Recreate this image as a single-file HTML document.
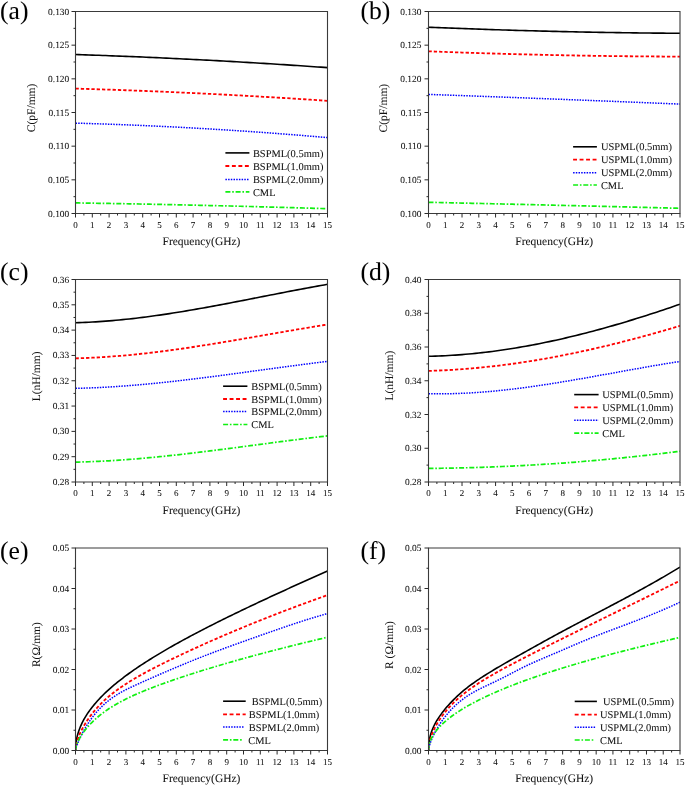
<!DOCTYPE html>
<html><head><meta charset="utf-8"><title>Figure</title>
<style>
html,body{margin:0;padding:0;background:#fff;width:685px;height:786px;overflow:hidden;}
svg{display:block;will-change:transform;}
text{font-family:"Liberation Serif",serif;text-rendering:geometricPrecision;stroke:currentColor;stroke-width:0.05px;}
</style></head><body>
<svg width="685" height="786" viewBox="0 0 685 786">
<rect width="685" height="786" fill="#fff"/>
<g><clipPath id="cL1"><rect x="75.5" y="9.5" width="252" height="204"/></clipPath>
<g clip-path="url(#cL1)" fill="none" stroke-linejoin="round">
<path d="M75.5,54.5 L78.86,54.61 L82.22,54.73 L85.58,54.84 L88.94,54.96 L92.3,55.08 L95.66,55.2 L99.02,55.32 L102.38,55.44 L105.74,55.57 L109.1,55.7 L112.46,55.83 L115.82,55.96 L119.18,56.09 L122.54,56.22 L125.9,56.36 L129.26,56.5 L132.62,56.64 L135.98,56.78 L139.34,56.92 L142.7,57.06 L146.06,57.21 L149.42,57.36 L152.78,57.51 L156.14,57.66 L159.5,57.81 L162.86,57.97 L166.22,58.12 L169.58,58.28 L172.94,58.44 L176.3,58.6 L179.66,58.76 L183.02,58.93 L186.38,59.1 L189.74,59.26 L193.1,59.43 L196.46,59.61 L199.82,59.78 L203.18,59.96 L206.54,60.13 L209.9,60.31 L213.26,60.49 L216.62,60.67 L219.98,60.86 L223.34,61.04 L226.7,61.23 L230.06,61.42 L233.42,61.61 L236.78,61.8 L240.14,62 L243.5,62.19 L246.86,62.39 L250.22,62.59 L253.58,62.79 L256.94,62.99 L260.3,63.2 L263.66,63.4 L267.02,63.61 L270.38,63.82 L273.74,64.03 L277.1,64.24 L280.46,64.46 L283.82,64.67 L287.18,64.89 L290.54,65.11 L293.9,65.33 L297.26,65.56 L300.62,65.78 L303.98,66.01 L307.34,66.24 L310.7,66.47 L314.06,66.7 L317.42,66.93 L320.78,67.17 L324.14,67.4 L327.5,67.64" stroke="#000000" stroke-width="1.6"/>
<path d="M75.5,88.59 L78.86,88.69 L82.22,88.79 L85.58,88.89 L88.94,88.99 L92.3,89.1 L95.66,89.21 L99.02,89.31 L102.38,89.43 L105.74,89.54 L109.1,89.65 L112.46,89.77 L115.82,89.88 L119.18,90 L122.54,90.12 L125.9,90.25 L129.26,90.37 L132.62,90.5 L135.98,90.63 L139.34,90.76 L142.7,90.89 L146.06,91.02 L149.42,91.16 L152.78,91.29 L156.14,91.43 L159.5,91.57 L162.86,91.71 L166.22,91.86 L169.58,92 L172.94,92.15 L176.3,92.3 L179.66,92.45 L183.02,92.6 L186.38,92.76 L189.74,92.91 L193.1,93.07 L196.46,93.23 L199.82,93.39 L203.18,93.56 L206.54,93.72 L209.9,93.89 L213.26,94.06 L216.62,94.23 L219.98,94.4 L223.34,94.57 L226.7,94.75 L230.06,94.93 L233.42,95.11 L236.78,95.29 L240.14,95.47 L243.5,95.65 L246.86,95.84 L250.22,96.03 L253.58,96.22 L256.94,96.41 L260.3,96.6 L263.66,96.8 L267.02,96.99 L270.38,97.19 L273.74,97.39 L277.1,97.59 L280.46,97.8 L283.82,98 L287.18,98.21 L290.54,98.42 L293.9,98.63 L297.26,98.84 L300.62,99.06 L303.98,99.27 L307.34,99.49 L310.7,99.71 L314.06,99.93 L317.42,100.15 L320.78,100.38 L324.14,100.61 L327.5,100.83" stroke="#ff0000" stroke-width="1.8" stroke-dasharray="3.3 2.0"/>
<path d="M75.5,123.13 L78.86,123.22 L82.22,123.32 L85.58,123.42 L88.94,123.52 L92.3,123.63 L95.66,123.73 L99.02,123.85 L102.38,123.96 L105.74,124.07 L109.1,124.19 L112.46,124.31 L115.82,124.44 L119.18,124.56 L122.54,124.69 L125.9,124.82 L129.26,124.96 L132.62,125.1 L135.98,125.24 L139.34,125.38 L142.7,125.52 L146.06,125.67 L149.42,125.82 L152.78,125.97 L156.14,126.13 L159.5,126.29 L162.86,126.45 L166.22,126.61 L169.58,126.78 L172.94,126.95 L176.3,127.12 L179.66,127.29 L183.02,127.47 L186.38,127.65 L189.74,127.83 L193.1,128.02 L196.46,128.21 L199.82,128.4 L203.18,128.59 L206.54,128.79 L209.9,128.98 L213.26,129.19 L216.62,129.39 L219.98,129.6 L223.34,129.81 L226.7,130.02 L230.06,130.23 L233.42,130.45 L236.78,130.67 L240.14,130.89 L243.5,131.12 L246.86,131.34 L250.22,131.58 L253.58,131.81 L256.94,132.04 L260.3,132.28 L263.66,132.52 L267.02,132.77 L270.38,133.01 L273.74,133.26 L277.1,133.52 L280.46,133.77 L283.82,134.03 L287.18,134.29 L290.54,134.55 L293.9,134.82 L297.26,135.08 L300.62,135.35 L303.98,135.63 L307.34,135.9 L310.7,136.18 L314.06,136.46 L317.42,136.75 L320.78,137.03 L324.14,137.32 L327.5,137.62" stroke="#0000ff" stroke-width="1.5" stroke-dasharray="1.5 1.2"/>
<path d="M75.5,202.9 L78.86,202.95 L82.22,203.01 L85.58,203.06 L88.94,203.11 L92.3,203.17 L95.66,203.23 L99.02,203.28 L102.38,203.34 L105.74,203.4 L109.1,203.46 L112.46,203.52 L115.82,203.58 L119.18,203.64 L122.54,203.7 L125.9,203.76 L129.26,203.82 L132.62,203.89 L135.98,203.95 L139.34,204.01 L142.7,204.08 L146.06,204.15 L149.42,204.21 L152.78,204.28 L156.14,204.35 L159.5,204.42 L162.86,204.49 L166.22,204.56 L169.58,204.63 L172.94,204.7 L176.3,204.77 L179.66,204.84 L183.02,204.92 L186.38,204.99 L189.74,205.06 L193.1,205.14 L196.46,205.22 L199.82,205.29 L203.18,205.37 L206.54,205.45 L209.9,205.53 L213.26,205.61 L216.62,205.69 L219.98,205.77 L223.34,205.85 L226.7,205.93 L230.06,206.01 L233.42,206.1 L236.78,206.18 L240.14,206.26 L243.5,206.35 L246.86,206.44 L250.22,206.52 L253.58,206.61 L256.94,206.7 L260.3,206.79 L263.66,206.88 L267.02,206.97 L270.38,207.06 L273.74,207.15 L277.1,207.24 L280.46,207.33 L283.82,207.43 L287.18,207.52 L290.54,207.61 L293.9,207.71 L297.26,207.81 L300.62,207.9 L303.98,208 L307.34,208.1 L310.7,208.2 L314.06,208.3 L317.42,208.4 L320.78,208.5 L324.14,208.6 L327.5,208.7" stroke="#10f010" stroke-width="1.7" stroke-dasharray="5 1.8 1.6 1.8"/>
</g>
<path d="M75.5,11.5H327.5V213.5H75.5Z" fill="none" stroke="#3a3a3a" stroke-width="1.1"/>
<path d="M75.5,213.5v4M83.9,213.5v2M92.3,213.5v4M100.7,213.5v2M109.1,213.5v4M117.5,213.5v2M125.9,213.5v4M134.3,213.5v2M142.7,213.5v4M151.1,213.5v2M159.5,213.5v4M167.9,213.5v2M176.3,213.5v4M184.7,213.5v2M193.1,213.5v4M201.5,213.5v2M209.9,213.5v4M218.3,213.5v2M226.7,213.5v4M235.1,213.5v2M243.5,213.5v4M251.9,213.5v2M260.3,213.5v4M268.7,213.5v2M277.1,213.5v4M285.5,213.5v2M293.9,213.5v4M302.3,213.5v2M310.7,213.5v4M319.1,213.5v2M327.5,213.5v4M75.5,11.5h-4M75.5,28.33h-2M75.5,45.17h-4M75.5,62h-2M75.5,78.83h-4M75.5,95.67h-2M75.5,112.5h-4M75.5,129.33h-2M75.5,146.17h-4M75.5,163h-2M75.5,179.83h-4M75.5,196.67h-2M75.5,213.5h-4" stroke="#2a2a2a" stroke-width="1"/>
<g font-size="9.0" text-anchor="middle" fill="#111111"><text x="75.5" y="227.7">0</text><text x="92.3" y="227.7">1</text><text x="109.1" y="227.7">2</text><text x="125.9" y="227.7">3</text><text x="142.7" y="227.7">4</text><text x="159.5" y="227.7">5</text><text x="176.3" y="227.7">6</text><text x="193.1" y="227.7">7</text><text x="209.9" y="227.7">8</text><text x="226.7" y="227.7">9</text><text x="243.5" y="227.7">10</text><text x="260.3" y="227.7">11</text><text x="277.1" y="227.7">12</text><text x="293.9" y="227.7">13</text><text x="310.7" y="227.7">14</text><text x="327.5" y="227.7">15</text></g>
<g font-size="9.4" text-anchor="end" fill="#111111"><text x="69.2" y="14.5">0.130</text><text x="69.2" y="48.17">0.125</text><text x="69.2" y="81.83">0.120</text><text x="69.2" y="115.5">0.115</text><text x="69.2" y="149.17">0.110</text><text x="69.2" y="182.83">0.105</text><text x="69.2" y="216.5">0.100</text></g>
<text x="201.5" y="245" font-size="11.5" text-anchor="middle" fill="#111111">Frequency(GHz)</text>
<text transform="translate(35,107.9) rotate(-90)" font-size="11.5" text-anchor="middle" fill="#111111">C(pF/mm)</text>
<text x="0" y="19.2" font-size="25.6" fill="#000">(a)</text>
<path d="M225.4,152.9H249.4" stroke="#000000" stroke-width="1.6"/>
<text x="252.9" y="156.8" font-size="10.45" fill="#111111">BSPML(0.5mm)</text>
<path d="M225.4,166H249.4" stroke="#ff0000" stroke-width="1.8" stroke-dasharray="3.9 2.6"/>
<text x="252.9" y="169.9" font-size="10.45" fill="#111111">BSPML(1.0mm)</text>
<path d="M225.4,179.4H249.4" stroke="#0000ff" stroke-width="1.5" stroke-dasharray="1.5 1.2"/>
<text x="252.9" y="183.3" font-size="10.45" fill="#111111">BSPML(2.0mm)</text>
<path d="M225.4,191.8H249.4" stroke="#10f010" stroke-width="1.7" stroke-dasharray="5 1.8 1.6 1.8"/>
<text x="252.9" y="195.7" font-size="10.45" fill="#111111">CML</text></g>
<g><clipPath id="cR1"><rect x="428.5" y="9.5" width="251.5" height="204"/></clipPath>
<g clip-path="url(#cR1)" fill="none" stroke-linejoin="round">
<path d="M428.5,27.2 L431.85,27.34 L435.21,27.48 L438.56,27.62 L441.91,27.75 L445.27,27.89 L448.62,28.02 L451.97,28.15 L455.33,28.28 L458.68,28.41 L462.03,28.54 L465.39,28.66 L468.74,28.78 L472.09,28.9 L475.45,29.02 L478.8,29.14 L482.15,29.26 L485.51,29.37 L488.86,29.49 L492.21,29.6 L495.57,29.71 L498.92,29.82 L502.27,29.93 L505.63,30.03 L508.98,30.14 L512.33,30.24 L515.69,30.34 L519.04,30.44 L522.39,30.53 L525.75,30.63 L529.1,30.72 L532.45,30.82 L535.81,30.91 L539.16,31 L542.51,31.09 L545.87,31.17 L549.22,31.26 L552.57,31.34 L555.93,31.42 L559.28,31.5 L562.63,31.58 L565.99,31.65 L569.34,31.73 L572.69,31.8 L576.05,31.87 L579.4,31.94 L582.75,32.01 L586.11,32.08 L589.46,32.15 L592.81,32.21 L596.17,32.27 L599.52,32.33 L602.87,32.39 L606.23,32.45 L609.58,32.5 L612.93,32.56 L616.29,32.61 L619.64,32.66 L622.99,32.71 L626.35,32.76 L629.7,32.8 L633.05,32.85 L636.41,32.89 L639.76,32.93 L643.11,32.97 L646.47,33.01 L649.82,33.05 L653.17,33.08 L656.53,33.11 L659.88,33.14 L663.23,33.17 L666.59,33.2 L669.94,33.23 L673.29,33.25 L676.65,33.28 L680,33.3" stroke="#000000" stroke-width="1.6"/>
<path d="M428.5,51.3 L431.85,51.43 L435.21,51.56 L438.56,51.69 L441.91,51.81 L445.27,51.94 L448.62,52.06 L451.97,52.18 L455.33,52.3 L458.68,52.41 L462.03,52.53 L465.39,52.64 L468.74,52.76 L472.09,52.87 L475.45,52.98 L478.8,53.08 L482.15,53.19 L485.51,53.3 L488.86,53.4 L492.21,53.5 L495.57,53.6 L498.92,53.7 L502.27,53.79 L505.63,53.89 L508.98,53.98 L512.33,54.07 L515.69,54.16 L519.04,54.25 L522.39,54.34 L525.75,54.42 L529.1,54.51 L532.45,54.59 L535.81,54.67 L539.16,54.75 L542.51,54.83 L545.87,54.9 L549.22,54.97 L552.57,55.05 L555.93,55.12 L559.28,55.19 L562.63,55.25 L565.99,55.32 L569.34,55.38 L572.69,55.45 L576.05,55.51 L579.4,55.57 L582.75,55.62 L586.11,55.68 L589.46,55.74 L592.81,55.79 L596.17,55.84 L599.52,55.89 L602.87,55.94 L606.23,55.98 L609.58,56.03 L612.93,56.07 L616.29,56.11 L619.64,56.15 L622.99,56.19 L626.35,56.23 L629.7,56.26 L633.05,56.3 L636.41,56.33 L639.76,56.36 L643.11,56.39 L646.47,56.42 L649.82,56.44 L653.17,56.47 L656.53,56.49 L659.88,56.51 L663.23,56.53 L666.59,56.55 L669.94,56.56 L673.29,56.58 L676.65,56.59 L680,56.6" stroke="#ff0000" stroke-width="1.8" stroke-dasharray="3.3 2.0"/>
<path d="M428.5,94.4 L431.85,94.52 L435.21,94.64 L438.56,94.76 L441.91,94.88 L445.27,95 L448.62,95.12 L451.97,95.24 L455.33,95.37 L458.68,95.49 L462.03,95.61 L465.39,95.73 L468.74,95.85 L472.09,95.98 L475.45,96.1 L478.8,96.22 L482.15,96.35 L485.51,96.47 L488.86,96.59 L492.21,96.72 L495.57,96.84 L498.92,96.97 L502.27,97.09 L505.63,97.22 L508.98,97.35 L512.33,97.47 L515.69,97.6 L519.04,97.72 L522.39,97.85 L525.75,97.98 L529.1,98.1 L532.45,98.23 L535.81,98.36 L539.16,98.49 L542.51,98.62 L545.87,98.75 L549.22,98.87 L552.57,99 L555.93,99.13 L559.28,99.26 L562.63,99.39 L565.99,99.52 L569.34,99.65 L572.69,99.78 L576.05,99.91 L579.4,100.04 L582.75,100.18 L586.11,100.31 L589.46,100.44 L592.81,100.57 L596.17,100.7 L599.52,100.84 L602.87,100.97 L606.23,101.1 L609.58,101.24 L612.93,101.37 L616.29,101.5 L619.64,101.64 L622.99,101.77 L626.35,101.91 L629.7,102.04 L633.05,102.18 L636.41,102.31 L639.76,102.45 L643.11,102.59 L646.47,102.72 L649.82,102.86 L653.17,103 L656.53,103.13 L659.88,103.27 L663.23,103.41 L666.59,103.55 L669.94,103.68 L673.29,103.82 L676.65,103.96 L680,104.1" stroke="#0000ff" stroke-width="1.5" stroke-dasharray="1.5 1.2"/>
<path d="M428.5,202.3 L431.85,202.37 L435.21,202.45 L438.56,202.52 L441.91,202.6 L445.27,202.68 L448.62,202.75 L451.97,202.83 L455.33,202.9 L458.68,202.98 L462.03,203.05 L465.39,203.13 L468.74,203.21 L472.09,203.28 L475.45,203.36 L478.8,203.44 L482.15,203.51 L485.51,203.59 L488.86,203.67 L492.21,203.74 L495.57,203.82 L498.92,203.9 L502.27,203.98 L505.63,204.05 L508.98,204.13 L512.33,204.21 L515.69,204.29 L519.04,204.37 L522.39,204.45 L525.75,204.53 L529.1,204.6 L532.45,204.68 L535.81,204.76 L539.16,204.84 L542.51,204.92 L545.87,205 L549.22,205.08 L552.57,205.16 L555.93,205.24 L559.28,205.32 L562.63,205.4 L565.99,205.48 L569.34,205.56 L572.69,205.64 L576.05,205.72 L579.4,205.8 L582.75,205.89 L586.11,205.97 L589.46,206.05 L592.81,206.13 L596.17,206.21 L599.52,206.29 L602.87,206.37 L606.23,206.46 L609.58,206.54 L612.93,206.62 L616.29,206.7 L619.64,206.79 L622.99,206.87 L626.35,206.95 L629.7,207.04 L633.05,207.12 L636.41,207.2 L639.76,207.29 L643.11,207.37 L646.47,207.45 L649.82,207.54 L653.17,207.62 L656.53,207.71 L659.88,207.79 L663.23,207.88 L666.59,207.96 L669.94,208.04 L673.29,208.13 L676.65,208.21 L680,208.3" stroke="#10f010" stroke-width="1.7" stroke-dasharray="5 1.8 1.6 1.8"/>
</g>
<path d="M428.5,11.5H680V213.5H428.5Z" fill="none" stroke="#3a3a3a" stroke-width="1.1"/>
<path d="M428.5,213.5v4M436.88,213.5v2M445.27,213.5v4M453.65,213.5v2M462.03,213.5v4M470.42,213.5v2M478.8,213.5v4M487.18,213.5v2M495.57,213.5v4M503.95,213.5v2M512.33,213.5v4M520.72,213.5v2M529.1,213.5v4M537.48,213.5v2M545.87,213.5v4M554.25,213.5v2M562.63,213.5v4M571.02,213.5v2M579.4,213.5v4M587.78,213.5v2M596.17,213.5v4M604.55,213.5v2M612.93,213.5v4M621.32,213.5v2M629.7,213.5v4M638.08,213.5v2M646.47,213.5v4M654.85,213.5v2M663.23,213.5v4M671.62,213.5v2M680,213.5v4M428.5,11.5h-4M428.5,28.33h-2M428.5,45.17h-4M428.5,62h-2M428.5,78.83h-4M428.5,95.67h-2M428.5,112.5h-4M428.5,129.33h-2M428.5,146.17h-4M428.5,163h-2M428.5,179.83h-4M428.5,196.67h-2M428.5,213.5h-4" stroke="#2a2a2a" stroke-width="1"/>
<g font-size="9.0" text-anchor="middle" fill="#111111"><text x="428.5" y="227.7">0</text><text x="445.27" y="227.7">1</text><text x="462.03" y="227.7">2</text><text x="478.8" y="227.7">3</text><text x="495.57" y="227.7">4</text><text x="512.33" y="227.7">5</text><text x="529.1" y="227.7">6</text><text x="545.87" y="227.7">7</text><text x="562.63" y="227.7">8</text><text x="579.4" y="227.7">9</text><text x="596.17" y="227.7">10</text><text x="612.93" y="227.7">11</text><text x="629.7" y="227.7">12</text><text x="646.47" y="227.7">13</text><text x="663.23" y="227.7">14</text><text x="680" y="227.7">15</text></g>
<g font-size="9.4" text-anchor="end" fill="#111111"><text x="421.4" y="14.5">0.130</text><text x="421.4" y="48.17">0.125</text><text x="421.4" y="81.83">0.120</text><text x="421.4" y="115.5">0.115</text><text x="421.4" y="149.17">0.110</text><text x="421.4" y="182.83">0.105</text><text x="421.4" y="216.5">0.100</text></g>
<text x="554.25" y="245" font-size="11.5" text-anchor="middle" fill="#111111">Frequency(GHz)</text>
<text transform="translate(387.2,108.1) rotate(-90)" font-size="11.5" text-anchor="middle" fill="#111111">C(pF/mm)</text>
<text x="360.5" y="18.9" font-size="25.6" fill="#000">(b)</text>
<path d="M573.1,146.8H596.9" stroke="#000000" stroke-width="1.6"/>
<text x="600.9" y="150.4" font-size="10.45" fill="#111111">USPML(0.5mm)</text>
<path d="M573.1,159.7H596.9" stroke="#ff0000" stroke-width="1.8" stroke-dasharray="3.9 2.6"/>
<text x="600.9" y="163.3" font-size="10.45" fill="#111111">USPML(1.0mm)</text>
<path d="M573.1,172.8H596.9" stroke="#0000ff" stroke-width="1.5" stroke-dasharray="1.5 1.2"/>
<text x="600.9" y="176.4" font-size="10.45" fill="#111111">USPML(2.0mm)</text>
<path d="M573.1,185H596.9" stroke="#10f010" stroke-width="1.7" stroke-dasharray="5 1.8 1.6 1.8"/>
<text x="600.9" y="188.6" font-size="10.45" fill="#111111">CML</text></g>
<g><clipPath id="cL2"><rect x="75.5" y="277.5" width="252" height="204.5"/></clipPath>
<g clip-path="url(#cL2)" fill="none" stroke-linejoin="round">
<path d="M75.5,322.69 L78.86,322.6 L82.22,322.48 L85.58,322.35 L88.94,322.2 L92.3,322.03 L95.66,321.84 L99.02,321.63 L102.38,321.4 L105.74,321.15 L109.1,320.89 L112.46,320.61 L115.82,320.31 L119.18,320 L122.54,319.67 L125.9,319.32 L129.26,318.96 L132.62,318.59 L135.98,318.2 L139.34,317.8 L142.7,317.38 L146.06,316.95 L149.42,316.5 L152.78,316.05 L156.14,315.58 L159.5,315.1 L162.86,314.61 L166.22,314.1 L169.58,313.59 L172.94,313.07 L176.3,312.53 L179.66,311.99 L183.02,311.44 L186.38,310.87 L189.74,310.3 L193.1,309.73 L196.46,309.14 L199.82,308.55 L203.18,307.95 L206.54,307.34 L209.9,306.73 L213.26,306.11 L216.62,305.49 L219.98,304.86 L223.34,304.22 L226.7,303.59 L230.06,302.94 L233.42,302.3 L236.78,301.65 L240.14,301 L243.5,300.34 L246.86,299.69 L250.22,299.03 L253.58,298.37 L256.94,297.71 L260.3,297.05 L263.66,296.39 L267.02,295.73 L270.38,295.07 L273.74,294.41 L277.1,293.76 L280.46,293.1 L283.82,292.45 L287.18,291.8 L290.54,291.15 L293.9,290.51 L297.26,289.87 L300.62,289.23 L303.98,288.6 L307.34,287.97 L310.7,287.35 L314.06,286.73 L317.42,286.12 L320.78,285.51 L324.14,284.92 L327.5,284.32" stroke="#000000" stroke-width="1.6"/>
<path d="M75.5,358.32 L78.86,358.23 L82.22,358.13 L85.58,358.01 L88.94,357.87 L92.3,357.72 L95.66,357.55 L99.02,357.37 L102.38,357.17 L105.74,356.95 L109.1,356.72 L112.46,356.47 L115.82,356.22 L119.18,355.94 L122.54,355.65 L125.9,355.35 L129.26,355.04 L132.62,354.71 L135.98,354.37 L139.34,354.02 L142.7,353.66 L146.06,353.29 L149.42,352.9 L152.78,352.5 L156.14,352.1 L159.5,351.68 L162.86,351.25 L166.22,350.82 L169.58,350.37 L172.94,349.91 L176.3,349.45 L179.66,348.98 L183.02,348.5 L186.38,348.01 L189.74,347.51 L193.1,347.01 L196.46,346.5 L199.82,345.98 L203.18,345.46 L206.54,344.93 L209.9,344.39 L213.26,343.85 L216.62,343.3 L219.98,342.75 L223.34,342.2 L226.7,341.64 L230.06,341.08 L233.42,340.51 L236.78,339.94 L240.14,339.37 L243.5,338.79 L246.86,338.21 L250.22,337.64 L253.58,337.05 L256.94,336.47 L260.3,335.89 L263.66,335.3 L267.02,334.72 L270.38,334.13 L273.74,333.55 L277.1,332.96 L280.46,332.38 L283.82,331.79 L287.18,331.21 L290.54,330.63 L293.9,330.05 L297.26,329.48 L300.62,328.9 L303.98,328.33 L307.34,327.77 L310.7,327.2 L314.06,326.64 L317.42,326.09 L320.78,325.54 L324.14,324.99 L327.5,324.45" stroke="#ff0000" stroke-width="1.8" stroke-dasharray="3.3 2.0"/>
<path d="M75.5,388.34 L78.86,388.27 L82.22,388.18 L85.58,388.08 L88.94,387.97 L92.3,387.84 L95.66,387.7 L99.02,387.54 L102.38,387.37 L105.74,387.19 L109.1,387 L112.46,386.8 L115.82,386.58 L119.18,386.36 L122.54,386.12 L125.9,385.87 L129.26,385.61 L132.62,385.34 L135.98,385.06 L139.34,384.77 L142.7,384.47 L146.06,384.17 L149.42,383.85 L152.78,383.52 L156.14,383.19 L159.5,382.85 L162.86,382.5 L166.22,382.14 L169.58,381.78 L172.94,381.41 L176.3,381.03 L179.66,380.64 L183.02,380.25 L186.38,379.86 L189.74,379.45 L193.1,379.05 L196.46,378.63 L199.82,378.22 L203.18,377.79 L206.54,377.37 L209.9,376.94 L213.26,376.5 L216.62,376.06 L219.98,375.62 L223.34,375.18 L226.7,374.73 L230.06,374.28 L233.42,373.83 L236.78,373.38 L240.14,372.92 L243.5,372.47 L246.86,372.01 L250.22,371.55 L253.58,371.09 L256.94,370.63 L260.3,370.17 L263.66,369.71 L267.02,369.26 L270.38,368.8 L273.74,368.34 L277.1,367.89 L280.46,367.43 L283.82,366.98 L287.18,366.53 L290.54,366.09 L293.9,365.64 L297.26,365.2 L300.62,364.77 L303.98,364.33 L307.34,363.9 L310.7,363.47 L314.06,363.05 L317.42,362.63 L320.78,362.22 L324.14,361.81 L327.5,361.41" stroke="#0000ff" stroke-width="1.5" stroke-dasharray="1.5 1.2"/>
<path d="M75.5,462.1 L78.86,462.03 L82.22,461.94 L85.58,461.84 L88.94,461.73 L92.3,461.6 L95.66,461.46 L99.02,461.31 L102.38,461.15 L105.74,460.97 L109.1,460.78 L112.46,460.58 L115.82,460.37 L119.18,460.15 L122.54,459.91 L125.9,459.67 L129.26,459.42 L132.62,459.15 L135.98,458.88 L139.34,458.6 L142.7,458.31 L146.06,458 L149.42,457.69 L152.78,457.38 L156.14,457.05 L159.5,456.72 L162.86,456.37 L166.22,456.03 L169.58,455.67 L172.94,455.31 L176.3,454.94 L179.66,454.56 L183.02,454.18 L186.38,453.79 L189.74,453.4 L193.1,453 L196.46,452.6 L199.82,452.19 L203.18,451.78 L206.54,451.36 L209.9,450.94 L213.26,450.52 L216.62,450.09 L219.98,449.66 L223.34,449.23 L226.7,448.79 L230.06,448.36 L233.42,447.92 L236.78,447.48 L240.14,447.03 L243.5,446.59 L246.86,446.14 L250.22,445.7 L253.58,445.25 L256.94,444.81 L260.3,444.36 L263.66,443.91 L267.02,443.47 L270.38,443.02 L273.74,442.58 L277.1,442.14 L280.46,441.7 L283.82,441.26 L287.18,440.83 L290.54,440.39 L293.9,439.96 L297.26,439.53 L300.62,439.11 L303.98,438.69 L307.34,438.27 L310.7,437.86 L314.06,437.45 L317.42,437.05 L320.78,436.65 L324.14,436.26 L327.5,435.87" stroke="#10f010" stroke-width="1.7" stroke-dasharray="5 1.8 1.6 1.8"/>
</g>
<path d="M75.5,279.5H327.5V482H75.5Z" fill="none" stroke="#3a3a3a" stroke-width="1.1"/>
<path d="M75.5,482v4M83.9,482v2M92.3,482v4M100.7,482v2M109.1,482v4M117.5,482v2M125.9,482v4M134.3,482v2M142.7,482v4M151.1,482v2M159.5,482v4M167.9,482v2M176.3,482v4M184.7,482v2M193.1,482v4M201.5,482v2M209.9,482v4M218.3,482v2M226.7,482v4M235.1,482v2M243.5,482v4M251.9,482v2M260.3,482v4M268.7,482v2M277.1,482v4M285.5,482v2M293.9,482v4M302.3,482v2M310.7,482v4M319.1,482v2M327.5,482v4M75.5,279.5h-4M75.5,292.16h-2M75.5,304.81h-4M75.5,317.47h-2M75.5,330.12h-4M75.5,342.78h-2M75.5,355.44h-4M75.5,368.09h-2M75.5,380.75h-4M75.5,393.41h-2M75.5,406.06h-4M75.5,418.72h-2M75.5,431.38h-4M75.5,444.03h-2M75.5,456.69h-4M75.5,469.34h-2M75.5,482h-4" stroke="#2a2a2a" stroke-width="1"/>
<g font-size="9.0" text-anchor="middle" fill="#111111"><text x="75.5" y="496.2">0</text><text x="92.3" y="496.2">1</text><text x="109.1" y="496.2">2</text><text x="125.9" y="496.2">3</text><text x="142.7" y="496.2">4</text><text x="159.5" y="496.2">5</text><text x="176.3" y="496.2">6</text><text x="193.1" y="496.2">7</text><text x="209.9" y="496.2">8</text><text x="226.7" y="496.2">9</text><text x="243.5" y="496.2">10</text><text x="260.3" y="496.2">11</text><text x="277.1" y="496.2">12</text><text x="293.9" y="496.2">13</text><text x="310.7" y="496.2">14</text><text x="327.5" y="496.2">15</text></g>
<g font-size="9.4" text-anchor="end" fill="#111111"><text x="69.2" y="282.5">0.36</text><text x="69.2" y="307.81">0.35</text><text x="69.2" y="333.12">0.34</text><text x="69.2" y="358.44">0.33</text><text x="69.2" y="383.75">0.32</text><text x="69.2" y="409.06">0.31</text><text x="69.2" y="434.38">0.30</text><text x="69.2" y="459.69">0.29</text><text x="69.2" y="485">0.28</text></g>
<text x="201.5" y="513.5" font-size="11.5" text-anchor="middle" fill="#111111">Frequency(GHz)</text>
<text transform="translate(40.3,376.4) rotate(-90)" font-size="11.5" text-anchor="middle" fill="#111111">L(nH/mm)</text>
<text x="0" y="280.2" font-size="25.6" fill="#000">(c)</text>
<path d="M223.1,386.2H247.4" stroke="#000000" stroke-width="1.6"/>
<text x="251.2" y="389.9" font-size="10.45" fill="#111111">BSPML(0.5mm)</text>
<path d="M223.1,399H247.4" stroke="#ff0000" stroke-width="1.8" stroke-dasharray="3.9 2.6"/>
<text x="251.2" y="402.7" font-size="10.45" fill="#111111">BSPML(1.0mm)</text>
<path d="M223.1,411.6H247.4" stroke="#0000ff" stroke-width="1.5" stroke-dasharray="1.5 1.2"/>
<text x="251.2" y="415.3" font-size="10.45" fill="#111111">BSPML(2.0mm)</text>
<path d="M223.1,424.5H247.4" stroke="#10f010" stroke-width="1.7" stroke-dasharray="5 1.8 1.6 1.8"/>
<text x="251.2" y="428.2" font-size="10.45" fill="#111111">CML</text></g>
<g><clipPath id="cR2"><rect x="428.5" y="277.5" width="251.5" height="204.5"/></clipPath>
<g clip-path="url(#cR2)" fill="none" stroke-linejoin="round">
<path d="M428.5,356.29 L431.85,356.21 L435.21,356.11 L438.56,355.99 L441.91,355.85 L445.27,355.69 L448.62,355.51 L451.97,355.31 L455.33,355.09 L458.68,354.85 L462.03,354.59 L465.39,354.31 L468.74,354.01 L472.09,353.7 L475.45,353.36 L478.8,353.01 L482.15,352.64 L485.51,352.25 L488.86,351.84 L492.21,351.42 L495.57,350.97 L498.92,350.51 L502.27,350.04 L505.63,349.54 L508.98,349.03 L512.33,348.5 L515.69,347.95 L519.04,347.39 L522.39,346.81 L525.75,346.22 L529.1,345.61 L532.45,344.98 L535.81,344.34 L539.16,343.68 L542.51,343.01 L545.87,342.32 L549.22,341.62 L552.57,340.9 L555.93,340.17 L559.28,339.42 L562.63,338.66 L565.99,337.88 L569.34,337.09 L572.69,336.28 L576.05,335.47 L579.4,334.64 L582.75,333.79 L586.11,332.93 L589.46,332.06 L592.81,331.18 L596.17,330.28 L599.52,329.37 L602.87,328.45 L606.23,327.51 L609.58,326.57 L612.93,325.61 L616.29,324.64 L619.64,323.66 L622.99,322.66 L626.35,321.66 L629.7,320.64 L633.05,319.62 L636.41,318.58 L639.76,317.53 L643.11,316.47 L646.47,315.4 L649.82,314.32 L653.17,313.23 L656.53,312.14 L659.88,311.03 L663.23,309.91 L666.59,308.78 L669.94,307.64 L673.29,306.5 L676.65,305.34 L680,304.18" stroke="#000000" stroke-width="1.6"/>
<path d="M428.5,370.87 L431.85,370.78 L435.21,370.67 L438.56,370.54 L441.91,370.39 L445.27,370.23 L448.62,370.05 L451.97,369.86 L455.33,369.65 L458.68,369.43 L462.03,369.19 L465.39,368.94 L468.74,368.67 L472.09,368.38 L475.45,368.08 L478.8,367.77 L482.15,367.44 L485.51,367.09 L488.86,366.73 L492.21,366.36 L495.57,365.97 L498.92,365.57 L502.27,365.16 L505.63,364.73 L508.98,364.28 L512.33,363.83 L515.69,363.35 L519.04,362.87 L522.39,362.37 L525.75,361.86 L529.1,361.34 L532.45,360.8 L535.81,360.25 L539.16,359.68 L542.51,359.11 L545.87,358.52 L549.22,357.92 L552.57,357.3 L555.93,356.68 L559.28,356.04 L562.63,355.39 L565.99,354.72 L569.34,354.05 L572.69,353.36 L576.05,352.66 L579.4,351.95 L582.75,351.23 L586.11,350.5 L589.46,349.76 L592.81,349 L596.17,348.24 L599.52,347.46 L602.87,346.67 L606.23,345.87 L609.58,345.06 L612.93,344.24 L616.29,343.41 L619.64,342.57 L622.99,341.72 L626.35,340.86 L629.7,339.99 L633.05,339.11 L636.41,338.22 L639.76,337.33 L643.11,336.42 L646.47,335.5 L649.82,334.57 L653.17,333.64 L656.53,332.69 L659.88,331.74 L663.23,330.77 L666.59,329.8 L669.94,328.82 L673.29,327.83 L676.65,326.84 L680,325.83" stroke="#ff0000" stroke-width="1.8" stroke-dasharray="3.3 2.0"/>
<path d="M428.5,393.64 L431.85,393.71 L435.21,393.76 L438.56,393.79 L441.91,393.79 L445.27,393.77 L448.62,393.72 L451.97,393.65 L455.33,393.56 L458.68,393.45 L462.03,393.32 L465.39,393.17 L468.74,393 L472.09,392.8 L475.45,392.59 L478.8,392.36 L482.15,392.11 L485.51,391.85 L488.86,391.56 L492.21,391.26 L495.57,390.95 L498.92,390.61 L502.27,390.27 L505.63,389.9 L508.98,389.52 L512.33,389.13 L515.69,388.72 L519.04,388.31 L522.39,387.87 L525.75,387.43 L529.1,386.97 L532.45,386.5 L535.81,386.02 L539.16,385.54 L542.51,385.04 L545.87,384.53 L549.22,384.01 L552.57,383.48 L555.93,382.94 L559.28,382.4 L562.63,381.85 L565.99,381.29 L569.34,380.73 L572.69,380.16 L576.05,379.58 L579.4,379 L582.75,378.42 L586.11,377.83 L589.46,377.23 L592.81,376.64 L596.17,376.04 L599.52,375.44 L602.87,374.83 L606.23,374.23 L609.58,373.62 L612.93,373.02 L616.29,372.41 L619.64,371.8 L622.99,371.2 L626.35,370.59 L629.7,369.99 L633.05,369.39 L636.41,368.79 L639.76,368.2 L643.11,367.61 L646.47,367.02 L649.82,366.44 L653.17,365.86 L656.53,365.29 L659.88,364.72 L663.23,364.16 L666.59,363.61 L669.94,363.06 L673.29,362.52 L676.65,361.99 L680,361.47" stroke="#0000ff" stroke-width="1.5" stroke-dasharray="1.5 1.2"/>
<path d="M428.5,468.39 L431.85,468.36 L435.21,468.33 L438.56,468.29 L441.91,468.24 L445.27,468.19 L448.62,468.14 L451.97,468.08 L455.33,468.01 L458.68,467.94 L462.03,467.87 L465.39,467.78 L468.74,467.7 L472.09,467.6 L475.45,467.5 L478.8,467.4 L482.15,467.29 L485.51,467.18 L488.86,467.06 L492.21,466.93 L495.57,466.8 L498.92,466.66 L502.27,466.52 L505.63,466.38 L508.98,466.22 L512.33,466.06 L515.69,465.9 L519.04,465.73 L522.39,465.56 L525.75,465.38 L529.1,465.19 L532.45,465 L535.81,464.81 L539.16,464.6 L542.51,464.4 L545.87,464.18 L549.22,463.97 L552.57,463.74 L555.93,463.52 L559.28,463.28 L562.63,463.04 L565.99,462.8 L569.34,462.55 L572.69,462.29 L576.05,462.03 L579.4,461.76 L582.75,461.49 L586.11,461.21 L589.46,460.93 L592.81,460.64 L596.17,460.35 L599.52,460.05 L602.87,459.74 L606.23,459.43 L609.58,459.12 L612.93,458.8 L616.29,458.47 L619.64,458.14 L622.99,457.8 L626.35,457.46 L629.7,457.11 L633.05,456.76 L636.41,456.4 L639.76,456.03 L643.11,455.66 L646.47,455.29 L649.82,454.91 L653.17,454.52 L656.53,454.13 L659.88,453.73 L663.23,453.33 L666.59,452.92 L669.94,452.51 L673.29,452.09 L676.65,451.66 L680,451.24" stroke="#10f010" stroke-width="1.7" stroke-dasharray="5 1.8 1.6 1.8"/>
</g>
<path d="M428.5,279.5H680V482H428.5Z" fill="none" stroke="#3a3a3a" stroke-width="1.1"/>
<path d="M428.5,482v4M436.88,482v2M445.27,482v4M453.65,482v2M462.03,482v4M470.42,482v2M478.8,482v4M487.18,482v2M495.57,482v4M503.95,482v2M512.33,482v4M520.72,482v2M529.1,482v4M537.48,482v2M545.87,482v4M554.25,482v2M562.63,482v4M571.02,482v2M579.4,482v4M587.78,482v2M596.17,482v4M604.55,482v2M612.93,482v4M621.32,482v2M629.7,482v4M638.08,482v2M646.47,482v4M654.85,482v2M663.23,482v4M671.62,482v2M680,482v4M428.5,279.5h-4M428.5,296.38h-2M428.5,313.25h-4M428.5,330.12h-2M428.5,347h-4M428.5,363.88h-2M428.5,380.75h-4M428.5,397.62h-2M428.5,414.5h-4M428.5,431.38h-2M428.5,448.25h-4M428.5,465.12h-2M428.5,482h-4" stroke="#2a2a2a" stroke-width="1"/>
<g font-size="9.0" text-anchor="middle" fill="#111111"><text x="428.5" y="496.2">0</text><text x="445.27" y="496.2">1</text><text x="462.03" y="496.2">2</text><text x="478.8" y="496.2">3</text><text x="495.57" y="496.2">4</text><text x="512.33" y="496.2">5</text><text x="529.1" y="496.2">6</text><text x="545.87" y="496.2">7</text><text x="562.63" y="496.2">8</text><text x="579.4" y="496.2">9</text><text x="596.17" y="496.2">10</text><text x="612.93" y="496.2">11</text><text x="629.7" y="496.2">12</text><text x="646.47" y="496.2">13</text><text x="663.23" y="496.2">14</text><text x="680" y="496.2">15</text></g>
<g font-size="9.4" text-anchor="end" fill="#111111"><text x="421.4" y="282.5">0.40</text><text x="421.4" y="316.25">0.38</text><text x="421.4" y="350">0.36</text><text x="421.4" y="383.75">0.34</text><text x="421.4" y="417.5">0.32</text><text x="421.4" y="451.25">0.30</text><text x="421.4" y="485">0.28</text></g>
<text x="554.25" y="513.5" font-size="11.5" text-anchor="middle" fill="#111111">Frequency(GHz)</text>
<text transform="translate(393.1,375.7) rotate(-90)" font-size="11.5" text-anchor="middle" fill="#111111">L(nH/mm)</text>
<text x="360.5" y="280" font-size="25.6" fill="#000">(d)</text>
<path d="M574.2,394.6H598.6" stroke="#000000" stroke-width="1.6"/>
<text x="602.2" y="398.1" font-size="10.45" fill="#111111">USPML(0.5mm)</text>
<path d="M574.2,407.3H598.6" stroke="#ff0000" stroke-width="1.8" stroke-dasharray="3.9 2.6"/>
<text x="602.2" y="410.8" font-size="10.45" fill="#111111">USPML(1.0mm)</text>
<path d="M574.2,420.3H598.6" stroke="#0000ff" stroke-width="1.5" stroke-dasharray="1.5 1.2"/>
<text x="602.2" y="423.8" font-size="10.45" fill="#111111">USPML(2.0mm)</text>
<path d="M574.2,433.2H598.6" stroke="#10f010" stroke-width="1.7" stroke-dasharray="5 1.8 1.6 1.8"/>
<text x="602.2" y="436.7" font-size="10.45" fill="#111111">CML</text></g>
<g><clipPath id="cL3"><rect x="75.5" y="546" width="252" height="204.5"/></clipPath>
<g clip-path="url(#cL3)" fill="none" stroke-linejoin="round">
<path d="M75.5,750.49 L75.58,747.31 L75.67,745.99 L75.84,744.14 L76.17,741.54 L76.68,738.68 L77.18,736.41 L78.02,733.29 L78.86,730.68 L80.54,726.32 L82.22,722.66 L83.9,719.46 L85.58,716.57 L87.26,713.92 L88.94,711.45 L90.62,709.14 L92.3,706.96 L93.98,704.88 L95.66,702.9 L97.34,701 L99.02,699.17 L100.7,697.41 L102.38,695.7 L104.06,694.05 L105.74,692.44 L107.42,690.88 L109.1,689.35 L110.78,687.86 L112.46,686.41 L114.14,684.98 L115.82,683.59 L117.5,682.22 L119.18,680.88 L120.86,679.56 L122.54,678.26 L124.22,676.98 L125.9,675.73 L127.58,674.49 L129.26,673.27 L130.94,672.07 L132.62,670.88 L134.3,669.71 L135.98,668.56 L137.66,667.41 L139.34,666.28 L141.02,665.17 L142.7,664.06 L144.38,662.97 L146.06,661.89 L147.74,660.81 L149.42,659.75 L151.1,658.7 L152.78,657.66 L154.46,656.63 L156.14,655.6 L157.82,654.58 L159.5,653.58 L161.18,652.58 L162.86,651.58 L164.54,650.6 L166.22,649.62 L167.9,648.65 L169.58,647.68 L171.26,646.72 L172.94,645.77 L174.62,644.82 L176.3,643.88 L177.98,642.95 L179.66,642.02 L181.34,641.09 L183.02,640.17 L184.7,639.26 L186.38,638.35 L188.06,637.44 L189.74,636.54 L191.42,635.64 L193.1,634.75 L194.78,633.86 L196.46,632.98 L198.14,632.1 L199.82,631.22 L201.5,630.35 L203.18,629.48 L204.86,628.62 L206.54,627.75 L208.22,626.9 L209.9,626.04 L211.58,625.19 L213.26,624.34 L214.94,623.49 L216.62,622.65 L218.3,621.81 L219.98,620.97 L221.66,620.14 L223.34,619.3 L225.02,618.47 L226.7,617.65 L228.38,616.82 L230.06,616 L231.74,615.18 L233.42,614.36 L235.1,613.55 L236.78,612.73 L238.46,611.92 L240.14,611.11 L241.82,610.31 L243.5,609.5 L245.18,608.7 L246.86,607.9 L248.54,607.1 L250.22,606.3 L251.9,605.5 L253.58,604.71 L255.26,603.92 L256.94,603.12 L258.62,602.34 L260.3,601.55 L261.98,600.76 L263.66,599.98 L265.34,599.19 L267.02,598.41 L268.7,597.63 L270.38,596.85 L272.06,596.07 L273.74,595.3 L275.42,594.52 L277.1,593.75 L278.78,592.98 L280.46,592.21 L282.14,591.44 L283.82,590.67 L285.5,589.9 L287.18,589.13 L288.86,588.37 L290.54,587.6 L292.22,586.84 L293.9,586.07 L295.58,585.31 L297.26,584.55 L298.94,583.79 L300.62,583.03 L302.3,582.27 L303.98,581.52 L305.66,580.76 L307.34,580 L309.02,579.25 L310.7,578.5 L312.38,577.74 L314.06,576.99 L315.74,576.24 L317.42,575.49 L319.1,574.74 L320.78,573.99 L322.46,573.24 L324.14,572.49 L325.82,571.74 L327.5,571" stroke="#000000" stroke-width="1.6"/>
<path d="M75.5,750.51 L75.58,748.6 L75.67,747.77 L75.84,746.54 L76.17,744.72 L76.68,742.61 L77.18,740.84 L78.02,738.31 L78.86,736.09 L80.54,732.23 L82.22,728.85 L83.9,725.8 L85.58,722.99 L87.26,720.38 L88.94,717.94 L90.62,715.63 L92.3,713.44 L93.98,711.37 L95.66,709.38 L97.34,707.49 L99.02,705.68 L100.7,703.95 L102.38,702.28 L104.06,700.68 L105.74,699.14 L107.42,697.65 L109.1,696.22 L110.78,694.83 L112.46,693.49 L114.14,692.19 L115.82,690.92 L117.5,689.69 L119.18,688.49 L120.86,687.32 L122.54,686.18 L124.22,685.07 L125.9,683.97 L127.58,682.9 L129.26,681.85 L130.94,680.82 L132.62,679.8 L134.3,678.8 L135.98,677.82 L137.66,676.85 L139.34,675.9 L141.02,674.96 L142.7,674.02 L144.38,673.1 L146.06,672.19 L147.74,671.29 L149.42,670.4 L151.1,669.52 L152.78,668.65 L154.46,667.78 L156.14,666.92 L157.82,666.06 L159.5,665.22 L161.18,664.37 L162.86,663.54 L164.54,662.71 L166.22,661.88 L167.9,661.05 L169.58,660.23 L171.26,659.42 L172.94,658.61 L174.62,657.8 L176.3,656.99 L177.98,656.19 L179.66,655.39 L181.34,654.59 L183.02,653.8 L184.7,653.01 L186.38,652.23 L188.06,651.44 L189.74,650.66 L191.42,649.89 L193.1,649.11 L194.78,648.34 L196.46,647.57 L198.14,646.81 L199.82,646.05 L201.5,645.29 L203.18,644.53 L204.86,643.78 L206.54,643.03 L208.22,642.28 L209.9,641.53 L211.58,640.79 L213.26,640.05 L214.94,639.31 L216.62,638.58 L218.3,637.85 L219.98,637.12 L221.66,636.39 L223.34,635.67 L225.02,634.95 L226.7,634.23 L228.38,633.51 L230.06,632.8 L231.74,632.08 L233.42,631.37 L235.1,630.67 L236.78,629.96 L238.46,629.26 L240.14,628.56 L241.82,627.86 L243.5,627.17 L245.18,626.48 L246.86,625.79 L248.54,625.1 L250.22,624.41 L251.9,623.73 L253.58,623.05 L255.26,622.37 L256.94,621.69 L258.62,621.02 L260.3,620.35 L261.98,619.68 L263.66,619.01 L265.34,618.34 L267.02,617.68 L268.7,617.02 L270.38,616.36 L272.06,615.7 L273.74,615.04 L275.42,614.39 L277.1,613.74 L278.78,613.09 L280.46,612.44 L282.14,611.8 L283.82,611.16 L285.5,610.52 L287.18,609.88 L288.86,609.24 L290.54,608.61 L292.22,607.97 L293.9,607.34 L295.58,606.71 L297.26,606.09 L298.94,605.46 L300.62,604.84 L302.3,604.22 L303.98,603.6 L305.66,602.98 L307.34,602.36 L309.02,601.75 L310.7,601.14 L312.38,600.53 L314.06,599.92 L315.74,599.31 L317.42,598.71 L319.1,598.11 L320.78,597.51 L322.46,596.91 L324.14,596.31 L325.82,595.72 L327.5,595.12" stroke="#ff0000" stroke-width="1.8" stroke-dasharray="3.3 2.0"/>
<path d="M75.5,750.5 L75.58,749.82 L75.67,749.43 L75.84,748.77 L76.17,747.63 L76.68,746.12 L77.18,744.73 L78.02,742.59 L78.86,740.6 L80.54,736.91 L82.22,733.54 L83.9,730.4 L85.58,727.47 L87.26,724.72 L88.94,722.13 L90.62,719.69 L92.3,717.38 L93.98,715.19 L95.66,713.13 L97.34,711.18 L99.02,709.34 L100.7,707.6 L102.38,705.95 L104.06,704.4 L105.74,702.92 L107.42,701.52 L109.1,700.19 L110.78,698.92 L112.46,697.71 L114.14,696.55 L115.82,695.45 L117.5,694.39 L119.18,693.38 L120.86,692.41 L122.54,691.48 L124.22,690.58 L125.9,689.71 L127.58,688.87 L129.26,688.05 L130.94,687.25 L132.62,686.47 L134.3,685.69 L135.98,684.93 L137.66,684.17 L139.34,683.41 L141.02,682.66 L142.7,681.91 L144.38,681.16 L146.06,680.41 L147.74,679.67 L149.42,678.93 L151.1,678.18 L152.78,677.44 L154.46,676.71 L156.14,675.97 L157.82,675.24 L159.5,674.5 L161.18,673.77 L162.86,673.04 L164.54,672.32 L166.22,671.59 L167.9,670.87 L169.58,670.15 L171.26,669.43 L172.94,668.72 L174.62,668 L176.3,667.29 L177.98,666.58 L179.66,665.88 L181.34,665.18 L183.02,664.48 L184.7,663.78 L186.38,663.09 L188.06,662.4 L189.74,661.71 L191.42,661.03 L193.1,660.35 L194.78,659.67 L196.46,659 L198.14,658.33 L199.82,657.67 L201.5,657.01 L203.18,656.35 L204.86,655.7 L206.54,655.05 L208.22,654.4 L209.9,653.76 L211.58,653.12 L213.26,652.48 L214.94,651.85 L216.62,651.22 L218.3,650.59 L219.98,649.97 L221.66,649.34 L223.34,648.72 L225.02,648.1 L226.7,647.49 L228.38,646.87 L230.06,646.26 L231.74,645.65 L233.42,645.04 L235.1,644.44 L236.78,643.83 L238.46,643.23 L240.14,642.62 L241.82,642.02 L243.5,641.42 L245.18,640.83 L246.86,640.23 L248.54,639.63 L250.22,639.04 L251.9,638.44 L253.58,637.85 L255.26,637.26 L256.94,636.67 L258.62,636.07 L260.3,635.48 L261.98,634.89 L263.66,634.31 L265.34,633.72 L267.02,633.13 L268.7,632.54 L270.38,631.95 L272.06,631.37 L273.74,630.78 L275.42,630.2 L277.1,629.61 L278.78,629.03 L280.46,628.45 L282.14,627.87 L283.82,627.29 L285.5,626.71 L287.18,626.14 L288.86,625.57 L290.54,625 L292.22,624.44 L293.9,623.88 L295.58,623.32 L297.26,622.76 L298.94,622.21 L300.62,621.67 L302.3,621.12 L303.98,620.59 L305.66,620.05 L307.34,619.52 L309.02,619 L310.7,618.48 L312.38,617.96 L314.06,617.45 L315.74,616.94 L317.42,616.44 L319.1,615.95 L320.78,615.46 L322.46,614.98 L324.14,614.5 L325.82,614.03 L327.5,613.57" stroke="#0000ff" stroke-width="1.5" stroke-dasharray="1.5 1.2"/>
<path d="M75.5,750.51 L75.58,749.12 L75.67,748.5 L75.84,747.59 L76.17,746.23 L76.68,744.63 L77.18,743.29 L78.02,741.36 L78.86,739.66 L80.54,736.68 L82.22,734.07 L83.9,731.7 L85.58,729.52 L87.26,727.48 L88.94,725.57 L90.62,723.77 L92.3,722.06 L93.98,720.43 L95.66,718.88 L97.34,717.4 L99.02,715.98 L100.7,714.62 L102.38,713.32 L104.06,712.06 L105.74,710.86 L107.42,709.7 L109.1,708.57 L110.78,707.49 L112.46,706.44 L114.14,705.43 L115.82,704.44 L117.5,703.49 L119.18,702.56 L120.86,701.65 L122.54,700.77 L124.22,699.9 L125.9,699.06 L127.58,698.24 L129.26,697.43 L130.94,696.64 L132.62,695.86 L134.3,695.1 L135.98,694.35 L137.66,693.62 L139.34,692.89 L141.02,692.18 L142.7,691.48 L144.38,690.79 L146.06,690.11 L147.74,689.43 L149.42,688.77 L151.1,688.11 L152.78,687.46 L154.46,686.82 L156.14,686.19 L157.82,685.56 L159.5,684.94 L161.18,684.32 L162.86,683.71 L164.54,683.11 L166.22,682.51 L167.9,681.91 L169.58,681.32 L171.26,680.73 L172.94,680.15 L174.62,679.57 L176.3,679 L177.98,678.43 L179.66,677.86 L181.34,677.3 L183.02,676.74 L184.7,676.19 L186.38,675.63 L188.06,675.08 L189.74,674.54 L191.42,674 L193.1,673.46 L194.78,672.92 L196.46,672.39 L198.14,671.86 L199.82,671.33 L201.5,670.81 L203.18,670.29 L204.86,669.77 L206.54,669.25 L208.22,668.74 L209.9,668.23 L211.58,667.72 L213.26,667.21 L214.94,666.71 L216.62,666.21 L218.3,665.71 L219.98,665.22 L221.66,664.72 L223.34,664.23 L225.02,663.74 L226.7,663.26 L228.38,662.77 L230.06,662.29 L231.74,661.81 L233.42,661.33 L235.1,660.86 L236.78,660.38 L238.46,659.91 L240.14,659.44 L241.82,658.97 L243.5,658.51 L245.18,658.04 L246.86,657.58 L248.54,657.12 L250.22,656.66 L251.9,656.21 L253.58,655.75 L255.26,655.3 L256.94,654.85 L258.62,654.4 L260.3,653.95 L261.98,653.5 L263.66,653.06 L265.34,652.62 L267.02,652.17 L268.7,651.73 L270.38,651.3 L272.06,650.86 L273.74,650.42 L275.42,649.99 L277.1,649.56 L278.78,649.13 L280.46,648.7 L282.14,648.27 L283.82,647.84 L285.5,647.42 L287.18,647 L288.86,646.57 L290.54,646.15 L292.22,645.73 L293.9,645.32 L295.58,644.9 L297.26,644.48 L298.94,644.07 L300.62,643.66 L302.3,643.25 L303.98,642.84 L305.66,642.43 L307.34,642.02 L309.02,641.61 L310.7,641.21 L312.38,640.8 L314.06,640.4 L315.74,640 L317.42,639.6 L319.1,639.2 L320.78,638.8 L322.46,638.41 L324.14,638.01 L325.82,637.61 L327.5,637.22" stroke="#10f010" stroke-width="1.7" stroke-dasharray="5 1.8 1.6 1.8"/>
</g>
<path d="M75.5,548H327.5V750.5H75.5Z" fill="none" stroke="#3a3a3a" stroke-width="1.1"/>
<path d="M75.5,750.5v4M83.9,750.5v2M92.3,750.5v4M100.7,750.5v2M109.1,750.5v4M117.5,750.5v2M125.9,750.5v4M134.3,750.5v2M142.7,750.5v4M151.1,750.5v2M159.5,750.5v4M167.9,750.5v2M176.3,750.5v4M184.7,750.5v2M193.1,750.5v4M201.5,750.5v2M209.9,750.5v4M218.3,750.5v2M226.7,750.5v4M235.1,750.5v2M243.5,750.5v4M251.9,750.5v2M260.3,750.5v4M268.7,750.5v2M277.1,750.5v4M285.5,750.5v2M293.9,750.5v4M302.3,750.5v2M310.7,750.5v4M319.1,750.5v2M327.5,750.5v4M75.5,548h-4M75.5,568.25h-2M75.5,588.5h-4M75.5,608.75h-2M75.5,629h-4M75.5,649.25h-2M75.5,669.5h-4M75.5,689.75h-2M75.5,710h-4M75.5,730.25h-2M75.5,750.5h-4" stroke="#2a2a2a" stroke-width="1"/>
<g font-size="9.0" text-anchor="middle" fill="#111111"><text x="75.5" y="764.7">0</text><text x="92.3" y="764.7">1</text><text x="109.1" y="764.7">2</text><text x="125.9" y="764.7">3</text><text x="142.7" y="764.7">4</text><text x="159.5" y="764.7">5</text><text x="176.3" y="764.7">6</text><text x="193.1" y="764.7">7</text><text x="209.9" y="764.7">8</text><text x="226.7" y="764.7">9</text><text x="243.5" y="764.7">10</text><text x="260.3" y="764.7">11</text><text x="277.1" y="764.7">12</text><text x="293.9" y="764.7">13</text><text x="310.7" y="764.7">14</text><text x="327.5" y="764.7">15</text></g>
<g font-size="9.4" text-anchor="end" fill="#111111"><text x="69.2" y="551">0.05</text><text x="69.2" y="591.5">0.04</text><text x="69.2" y="632">0.03</text><text x="69.2" y="672.5">0.02</text><text x="69.2" y="713">0.01</text><text x="69.2" y="753.5">0.00</text></g>
<text x="201.5" y="782" font-size="11.5" text-anchor="middle" fill="#111111">Frequency(GHz)</text>
<text transform="translate(40.3,644.6) rotate(-90)" font-size="11.5" text-anchor="middle" fill="#111111">R(Ω/mm)</text>
<text x="0" y="558.9" font-size="25.6" fill="#000">(e)</text>
<path d="M223.1,701.2H245.7" stroke="#000000" stroke-width="1.6"/>
<text x="251.7" y="704.8" font-size="10.45" fill="#111111">BSPML(0.5mm)</text>
<path d="M223.1,714.3H245.7" stroke="#ff0000" stroke-width="1.8" stroke-dasharray="3.9 2.6"/>
<text x="248.8" y="717.9" font-size="10.45" fill="#111111">BSPML(1.0mm)</text>
<path d="M223.1,726.9H243.9" stroke="#0000ff" stroke-width="1.5" stroke-dasharray="1.5 1.2"/>
<text x="248.8" y="730.5" font-size="10.45" fill="#111111">BSPML(2.0mm)</text>
<path d="M223.1,739.9H243.5" stroke="#10f010" stroke-width="1.7" stroke-dasharray="5 1.8 1.6 1.8"/>
<text x="248.3" y="743.5" font-size="10.45" fill="#111111">CML</text></g>
<g><clipPath id="cR3"><rect x="428.5" y="546" width="251.5" height="204.5"/></clipPath>
<g clip-path="url(#cR3)" fill="none" stroke-linejoin="round">
<path d="M428.5,750.49 L428.58,747.1 L428.67,745.73 L428.84,743.83 L429.17,741.2 L429.67,738.38 L430.18,736.18 L431.01,733.22 L431.85,730.77 L433.53,726.74 L435.21,723.4 L436.88,720.47 L438.56,717.83 L440.24,715.39 L441.91,713.1 L443.59,710.93 L445.27,708.85 L446.94,706.86 L448.62,704.95 L450.3,703.11 L451.97,701.34 L453.65,699.63 L455.33,697.97 L457,696.37 L458.68,694.82 L460.36,693.32 L462.03,691.87 L463.71,690.46 L465.39,689.1 L467.06,687.77 L468.74,686.48 L470.42,685.22 L472.09,683.99 L473.77,682.79 L475.45,681.61 L477.12,680.46 L478.8,679.32 L480.48,678.2 L482.15,677.11 L483.83,676.02 L485.51,674.96 L487.18,673.9 L488.86,672.86 L490.54,671.83 L492.21,670.81 L493.89,669.8 L495.57,668.8 L497.24,667.8 L498.92,666.82 L500.6,665.84 L502.27,664.86 L503.95,663.9 L505.63,662.93 L507.3,661.97 L508.98,661.02 L510.66,660.07 L512.33,659.12 L514.01,658.17 L515.69,657.23 L517.36,656.28 L519.04,655.34 L520.72,654.4 L522.39,653.46 L524.07,652.53 L525.75,651.59 L527.42,650.65 L529.1,649.71 L530.78,648.78 L532.45,647.84 L534.13,646.91 L535.81,645.97 L537.48,645.04 L539.16,644.11 L540.84,643.18 L542.51,642.25 L544.19,641.32 L545.87,640.4 L547.54,639.47 L549.22,638.55 L550.9,637.63 L552.57,636.72 L554.25,635.8 L555.93,634.89 L557.6,633.98 L559.28,633.07 L560.96,632.17 L562.63,631.27 L564.31,630.37 L565.99,629.47 L567.66,628.57 L569.34,627.68 L571.02,626.79 L572.69,625.9 L574.37,625.01 L576.05,624.12 L577.72,623.23 L579.4,622.35 L581.08,621.46 L582.75,620.58 L584.43,619.69 L586.11,618.81 L587.78,617.93 L589.46,617.05 L591.14,616.16 L592.81,615.28 L594.49,614.4 L596.17,613.52 L597.84,612.64 L599.52,611.76 L601.2,610.88 L602.87,609.99 L604.55,609.11 L606.23,608.23 L607.9,607.34 L609.58,606.46 L611.26,605.57 L612.93,604.69 L614.61,603.8 L616.29,602.92 L617.96,602.03 L619.64,601.14 L621.32,600.25 L622.99,599.35 L624.67,598.46 L626.35,597.56 L628.02,596.67 L629.7,595.77 L631.38,594.86 L633.05,593.96 L634.73,593.05 L636.41,592.14 L638.08,591.22 L639.76,590.31 L641.44,589.39 L643.11,588.47 L644.79,587.54 L646.47,586.61 L648.14,585.67 L649.82,584.74 L651.5,583.8 L653.17,582.85 L654.85,581.9 L656.53,580.95 L658.2,579.99 L659.88,579.03 L661.56,578.06 L663.23,577.09 L664.91,576.11 L666.59,575.13 L668.26,574.15 L669.94,573.16 L671.62,572.16 L673.29,571.16 L674.97,570.15 L676.65,569.14 L678.32,568.12 L680,567.1" stroke="#000000" stroke-width="1.6"/>
<path d="M428.5,750.51 L428.58,748.2 L428.67,747.21 L428.84,745.79 L429.17,743.73 L429.67,741.39 L430.18,739.47 L431.01,736.77 L431.85,734.45 L433.53,730.47 L435.21,727.04 L436.88,723.99 L438.56,721.21 L440.24,718.63 L441.91,716.23 L443.59,713.98 L445.27,711.85 L446.94,709.84 L448.62,707.92 L450.3,706.09 L451.97,704.33 L453.65,702.66 L455.33,701.05 L457,699.5 L458.68,698.01 L460.36,696.56 L462.03,695.16 L463.71,693.81 L465.39,692.49 L467.06,691.21 L468.74,689.96 L470.42,688.75 L472.09,687.56 L473.77,686.4 L475.45,685.26 L477.12,684.15 L478.8,683.06 L480.48,681.99 L482.15,680.94 L483.83,679.9 L485.51,678.88 L487.18,677.88 L488.86,676.88 L490.54,675.91 L492.21,674.94 L493.89,673.98 L495.57,673.03 L497.24,672.1 L498.92,671.17 L500.6,670.25 L502.27,669.33 L503.95,668.43 L505.63,667.52 L507.3,666.63 L508.98,665.74 L510.66,664.85 L512.33,663.97 L514.01,663.1 L515.69,662.22 L517.36,661.35 L519.04,660.49 L520.72,659.62 L522.39,658.76 L524.07,657.9 L525.75,657.04 L527.42,656.19 L529.1,655.33 L530.78,654.48 L532.45,653.63 L534.13,652.78 L535.81,651.93 L537.48,651.08 L539.16,650.23 L540.84,649.39 L542.51,648.54 L544.19,647.7 L545.87,646.86 L547.54,646.02 L549.22,645.18 L550.9,644.34 L552.57,643.5 L554.25,642.66 L555.93,641.82 L557.6,640.99 L559.28,640.15 L560.96,639.32 L562.63,638.48 L564.31,637.65 L565.99,636.82 L567.66,635.98 L569.34,635.15 L571.02,634.32 L572.69,633.49 L574.37,632.66 L576.05,631.83 L577.72,631 L579.4,630.17 L581.08,629.34 L582.75,628.52 L584.43,627.69 L586.11,626.86 L587.78,626.03 L589.46,625.21 L591.14,624.38 L592.81,623.55 L594.49,622.73 L596.17,621.9 L597.84,621.08 L599.52,620.25 L601.2,619.43 L602.87,618.6 L604.55,617.78 L606.23,616.95 L607.9,616.13 L609.58,615.31 L611.26,614.48 L612.93,613.66 L614.61,612.83 L616.29,612.01 L617.96,611.19 L619.64,610.36 L621.32,609.54 L622.99,608.71 L624.67,607.89 L626.35,607.07 L628.02,606.24 L629.7,605.42 L631.38,604.6 L633.05,603.77 L634.73,602.95 L636.41,602.13 L638.08,601.3 L639.76,600.48 L641.44,599.66 L643.11,598.83 L644.79,598.01 L646.47,597.18 L648.14,596.36 L649.82,595.54 L651.5,594.71 L653.17,593.89 L654.85,593.06 L656.53,592.24 L658.2,591.41 L659.88,590.59 L661.56,589.76 L663.23,588.94 L664.91,588.11 L666.59,587.29 L668.26,586.46 L669.94,585.64 L671.62,584.81 L673.29,583.98 L674.97,583.16 L676.65,582.33 L678.32,581.51 L680,580.68" stroke="#ff0000" stroke-width="1.8" stroke-dasharray="3.3 2.0"/>
<path d="M428.5,750.5 L428.58,749.31 L428.67,748.73 L428.84,747.84 L429.17,746.43 L429.67,744.69 L430.18,743.17 L431.01,740.9 L431.85,738.86 L433.53,735.18 L435.21,731.88 L436.88,728.86 L438.56,726.06 L440.24,723.44 L441.91,720.98 L443.59,718.66 L445.27,716.46 L446.94,714.39 L448.62,712.42 L450.3,710.55 L451.97,708.78 L453.65,707.1 L455.33,705.5 L457,703.98 L458.68,702.53 L460.36,701.15 L462.03,699.83 L463.71,698.57 L465.39,697.36 L467.06,696.21 L468.74,695.11 L470.42,694.06 L472.09,693.05 L473.77,692.08 L475.45,691.16 L477.12,690.27 L478.8,689.4 L480.48,688.56 L482.15,687.74 L483.83,686.94 L485.51,686.14 L487.18,685.35 L488.86,684.57 L490.54,683.78 L492.21,683 L493.89,682.21 L495.57,681.41 L497.24,680.6 L498.92,679.78 L500.6,678.94 L502.27,678.09 L503.95,677.24 L505.63,676.37 L507.3,675.49 L508.98,674.62 L510.66,673.74 L512.33,672.86 L514.01,671.99 L515.69,671.11 L517.36,670.25 L519.04,669.39 L520.72,668.55 L522.39,667.71 L524.07,666.89 L525.75,666.08 L527.42,665.29 L529.1,664.51 L530.78,663.74 L532.45,662.97 L534.13,662.22 L535.81,661.48 L537.48,660.74 L539.16,660.02 L540.84,659.29 L542.51,658.57 L544.19,657.85 L545.87,657.14 L547.54,656.43 L549.22,655.72 L550.9,655.01 L552.57,654.3 L554.25,653.59 L555.93,652.88 L557.6,652.16 L559.28,651.44 L560.96,650.72 L562.63,650 L564.31,649.28 L565.99,648.55 L567.66,647.82 L569.34,647.09 L571.02,646.37 L572.69,645.64 L574.37,644.92 L576.05,644.2 L577.72,643.48 L579.4,642.76 L581.08,642.05 L582.75,641.34 L584.43,640.64 L586.11,639.94 L587.78,639.25 L589.46,638.56 L591.14,637.89 L592.81,637.21 L594.49,636.55 L596.17,635.89 L597.84,635.23 L599.52,634.58 L601.2,633.93 L602.87,633.29 L604.55,632.65 L606.23,632.01 L607.9,631.37 L609.58,630.74 L611.26,630.11 L612.93,629.48 L614.61,628.85 L616.29,628.22 L617.96,627.59 L619.64,626.96 L621.32,626.33 L622.99,625.7 L624.67,625.07 L626.35,624.44 L628.02,623.81 L629.7,623.18 L631.38,622.54 L633.05,621.9 L634.73,621.26 L636.41,620.61 L638.08,619.97 L639.76,619.32 L641.44,618.66 L643.11,618.01 L644.79,617.34 L646.47,616.68 L648.14,616.01 L649.82,615.33 L651.5,614.66 L653.17,613.97 L654.85,613.28 L656.53,612.59 L658.2,611.89 L659.88,611.18 L661.56,610.47 L663.23,609.75 L664.91,609.03 L666.59,608.3 L668.26,607.56 L669.94,606.82 L671.62,606.07 L673.29,605.31 L674.97,604.55 L676.65,603.77 L678.32,603 L680,602.21" stroke="#0000ff" stroke-width="1.5" stroke-dasharray="1.5 1.2"/>
<path d="M428.5,750.52 L428.58,748.46 L428.67,747.61 L428.84,746.4 L429.17,744.69 L429.67,742.81 L430.18,741.31 L431.01,739.24 L431.85,737.49 L433.53,734.56 L435.21,732.09 L436.88,729.92 L438.56,727.95 L440.24,726.14 L441.91,724.46 L443.59,722.88 L445.27,721.38 L446.94,719.96 L448.62,718.6 L450.3,717.3 L451.97,716.04 L453.65,714.83 L455.33,713.66 L457,712.53 L458.68,711.43 L460.36,710.35 L462.03,709.31 L463.71,708.29 L465.39,707.3 L467.06,706.33 L468.74,705.37 L470.42,704.44 L472.09,703.53 L473.77,702.63 L475.45,701.75 L477.12,700.89 L478.8,700.04 L480.48,699.21 L482.15,698.39 L483.83,697.58 L485.51,696.78 L487.18,695.99 L488.86,695.22 L490.54,694.46 L492.21,693.7 L493.89,692.96 L495.57,692.22 L497.24,691.5 L498.92,690.78 L500.6,690.08 L502.27,689.38 L503.95,688.68 L505.63,688 L507.3,687.32 L508.98,686.65 L510.66,685.99 L512.33,685.33 L514.01,684.68 L515.69,684.04 L517.36,683.4 L519.04,682.77 L520.72,682.15 L522.39,681.53 L524.07,680.91 L525.75,680.3 L527.42,679.7 L529.1,679.1 L530.78,678.51 L532.45,677.92 L534.13,677.33 L535.81,676.76 L537.48,676.18 L539.16,675.61 L540.84,675.04 L542.51,674.48 L544.19,673.92 L545.87,673.37 L547.54,672.82 L549.22,672.27 L550.9,671.73 L552.57,671.19 L554.25,670.65 L555.93,670.12 L557.6,669.59 L559.28,669.07 L560.96,668.55 L562.63,668.03 L564.31,667.51 L565.99,667 L567.66,666.49 L569.34,665.98 L571.02,665.48 L572.69,664.98 L574.37,664.48 L576.05,663.99 L577.72,663.5 L579.4,663.01 L581.08,662.52 L582.75,662.04 L584.43,661.56 L586.11,661.08 L587.78,660.6 L589.46,660.13 L591.14,659.66 L592.81,659.19 L594.49,658.72 L596.17,658.26 L597.84,657.8 L599.52,657.34 L601.2,656.88 L602.87,656.43 L604.55,655.97 L606.23,655.52 L607.9,655.07 L609.58,654.63 L611.26,654.18 L612.93,653.74 L614.61,653.3 L616.29,652.86 L617.96,652.42 L619.64,651.99 L621.32,651.56 L622.99,651.13 L624.67,650.7 L626.35,650.27 L628.02,649.84 L629.7,649.42 L631.38,649 L633.05,648.58 L634.73,648.16 L636.41,647.74 L638.08,647.33 L639.76,646.91 L641.44,646.5 L643.11,646.09 L644.79,645.68 L646.47,645.27 L648.14,644.87 L649.82,644.46 L651.5,644.06 L653.17,643.66 L654.85,643.26 L656.53,642.86 L658.2,642.46 L659.88,642.07 L661.56,641.67 L663.23,641.28 L664.91,640.89 L666.59,640.5 L668.26,640.11 L669.94,639.72 L671.62,639.34 L673.29,638.95 L674.97,638.57 L676.65,638.19 L678.32,637.81 L680,637.43" stroke="#10f010" stroke-width="1.7" stroke-dasharray="5 1.8 1.6 1.8"/>
</g>
<path d="M428.5,548H680V750.5H428.5Z" fill="none" stroke="#3a3a3a" stroke-width="1.1"/>
<path d="M428.5,750.5v4M436.88,750.5v2M445.27,750.5v4M453.65,750.5v2M462.03,750.5v4M470.42,750.5v2M478.8,750.5v4M487.18,750.5v2M495.57,750.5v4M503.95,750.5v2M512.33,750.5v4M520.72,750.5v2M529.1,750.5v4M537.48,750.5v2M545.87,750.5v4M554.25,750.5v2M562.63,750.5v4M571.02,750.5v2M579.4,750.5v4M587.78,750.5v2M596.17,750.5v4M604.55,750.5v2M612.93,750.5v4M621.32,750.5v2M629.7,750.5v4M638.08,750.5v2M646.47,750.5v4M654.85,750.5v2M663.23,750.5v4M671.62,750.5v2M680,750.5v4M428.5,548h-4M428.5,568.25h-2M428.5,588.5h-4M428.5,608.75h-2M428.5,629h-4M428.5,649.25h-2M428.5,669.5h-4M428.5,689.75h-2M428.5,710h-4M428.5,730.25h-2M428.5,750.5h-4" stroke="#2a2a2a" stroke-width="1"/>
<g font-size="9.0" text-anchor="middle" fill="#111111"><text x="428.5" y="764.7">0</text><text x="445.27" y="764.7">1</text><text x="462.03" y="764.7">2</text><text x="478.8" y="764.7">3</text><text x="495.57" y="764.7">4</text><text x="512.33" y="764.7">5</text><text x="529.1" y="764.7">6</text><text x="545.87" y="764.7">7</text><text x="562.63" y="764.7">8</text><text x="579.4" y="764.7">9</text><text x="596.17" y="764.7">10</text><text x="612.93" y="764.7">11</text><text x="629.7" y="764.7">12</text><text x="646.47" y="764.7">13</text><text x="663.23" y="764.7">14</text><text x="680" y="764.7">15</text></g>
<g font-size="9.4" text-anchor="end" fill="#111111"><text x="421.4" y="551">0.05</text><text x="421.4" y="591.5">0.04</text><text x="421.4" y="632">0.03</text><text x="421.4" y="672.5">0.02</text><text x="421.4" y="713">0.01</text><text x="421.4" y="753.5">0.00</text></g>
<text x="554.25" y="782" font-size="11.5" text-anchor="middle" fill="#111111">Frequency(GHz)</text>
<text transform="translate(393.3,645) rotate(-90)" font-size="11.5" text-anchor="middle" fill="#111111">R (Ω/mm)</text>
<text x="360.5" y="558.5" font-size="25.6" fill="#000">(f)</text>
<path d="M574.7,701.4H596.9" stroke="#000000" stroke-width="1.6"/>
<text x="602.9" y="705" font-size="10.45" fill="#111111">USPML(0.5mm)</text>
<path d="M574.7,714.7H596.9" stroke="#ff0000" stroke-width="1.8" stroke-dasharray="3.9 2.6"/>
<text x="600" y="718.3" font-size="10.45" fill="#111111">USPML(1.0mm)</text>
<path d="M574.7,727.3H595.2" stroke="#0000ff" stroke-width="1.5" stroke-dasharray="1.5 1.2"/>
<text x="600" y="730.9" font-size="10.45" fill="#111111">USPML(2.0mm)</text>
<path d="M574.7,740H594.9" stroke="#10f010" stroke-width="1.7" stroke-dasharray="5 1.8 1.6 1.8"/>
<text x="600" y="743.6" font-size="10.45" fill="#111111">CML</text></g>
</svg>
</body></html>
